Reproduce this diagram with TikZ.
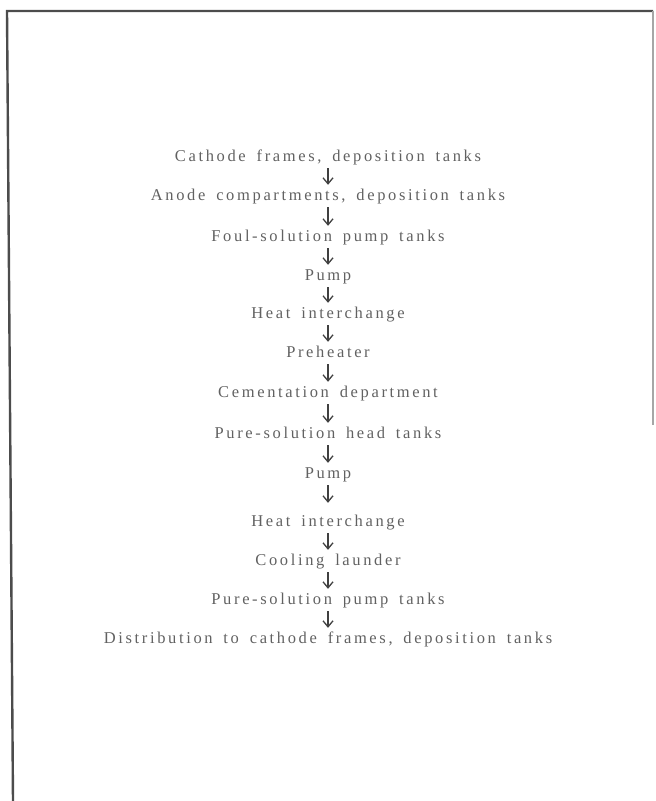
\documentclass[tikz,border=0pt]{standalone}
\usepackage{fontspec}
\setmainfont{Liberation Serif}[LetterSpace=16,WordSpace=1.6]
\usetikzlibrary{arrows.meta}
\definecolor{ink}{gray}{0.38}
\definecolor{arrowink}{gray}{0.25}
\definecolor{frameink}{gray}{0.3}
\tikzset{
  stage/.style={font=\fontsize{16.5bp}{18bp}\selectfont, text=ink, inner sep=0pt,
    text height=11bp, text depth=3bp, anchor=center},
  flow/.style={draw=arrowink, line width=1.3bp, shorten <=4bp, shorten >=4bp,
    -{Straight Barb[length=6bp,width=10bp,line width=1.3bp]}},
  frameline/.style={draw=frameink, line width=2.4bp}
}
\begin{document}
\begin{tikzpicture}[x=1bp,y=-1bp]
\useasboundingbox (0,0) rectangle (656,801);
% frame
\coordinate (fbl) at (13,801);
\coordinate (ftl) at (7,11);
\coordinate (ftr) at (653,11);
\coordinate (fbr) at (653,425);
\draw[frameline] (fbl) -- (ftl) -- (ftr);
\draw[frameline, draw=gray!70, line width=1.8bp] (ftr) -- (fbr);
% stages
\node[stage] (n1) at (328,157) {Cathode frames, deposition tanks};
\node[stage] (n2) at (328,196) {Anode compartments, deposition tanks};
\node[stage] (n3) at (328,237) {Foul-solution pump tanks};
\node[stage] (n4) at (328,276) {Pump};
\node[stage] (n5) at (328,314) {Heat interchange};
\node[stage] (n6) at (328,353) {Preheater};
\node[stage] (n7) at (328,393) {Cementation department};
\node[stage] (n8) at (328,434) {Pure-solution head tanks};
\node[stage] (n9) at (328,474) {Pump};
\node[stage] (n10) at (328,522) {Heat interchange};
\node[stage] (n11) at (328,561) {Cooling launder};
\node[stage] (n12) at (328,600) {Pure-solution pump tanks};
\node[stage] (n13) at (328,639) {Distribution to cathode frames, deposition tanks};
\foreach \a/\b in {n1/n2,n2/n3,n3/n4,n4/n5,n5/n6,n6/n7,n7/n8,n8/n9,n10/n11,n11/n12,n12/n13}
  \draw[flow] (\a.south) -- (\b.north);
\draw[flow, shorten >=12bp] (n9.south) -- (n10.north);
\end{tikzpicture}
\end{document}
